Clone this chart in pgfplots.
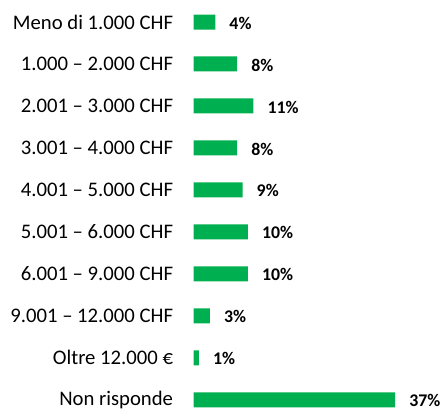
\documentclass[border=0pt]{standalone}
\usepackage{fontspec}
\setmainfont{Carlito}
\usepackage{pgfplots}
\pgfplotsset{compat=1.18}
\definecolor{barg}{RGB}{0,176,80}

\begin{document}
\begin{tikzpicture}
  \path[use as bounding box] (0,0) rectangle (443bp,410bp);
  \begin{axis}[
    at={(193.5bp,1bp)}, anchor=south west,
    scale only axis,
    width=249.5bp, height=409bp,
    xbar, bar width=15bp,
    xmin=0, xmax=45.8,
    ymin=-0.524, ymax=9.219,
    y dir=reverse,
    axis line style={draw=none},
    tick style={draw=none},
    xtick=\empty,
    ytick={0,...,9},
    yticklabels={Meno di 1.000 CHF, 1.000 – 2.000 CHF, 2.001 – 3.000 CHF,
      3.001 – 4.000 CHF, 4.001 – 5.000 CHF, 5.001 – 6.000 CHF,
      6.001 – 9.000 CHF, 9.001 – 12.000 CHF, Oltre 12.000 €, Non risponde},
    yticklabel style={font=\fontsize{20.7bp}{24bp}\selectfont,
      anchor=east, inner sep=0pt, xshift=-16bp},
    point meta=explicit symbolic,
    nodes near coords,
    every node near coord/.append style={
      font=\bfseries\fontsize{17.8bp}{20bp}\selectfont,
      anchor=west, inner sep=0pt, xshift=14bp, yshift=-1bp},
  ]
  \addplot[draw=none, fill=barg] coordinates {
    (4,0) [4\%]
    (8,1) [8\%]
    (11,2) [11\%]
    (8,3) [8\%]
    (9,4) [9\%]
    (10,5) [10\%]
    (10,6) [10\%]
    (3,7) [3\%]
    (1,8) [1\%]
    (37,9) [37\%]
  };
  \end{axis}
\end{tikzpicture}
\end{document}
